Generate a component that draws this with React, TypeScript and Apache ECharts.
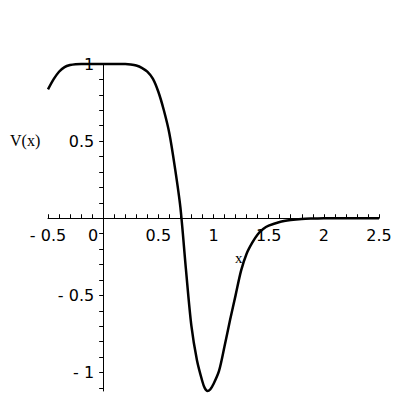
import React, { useEffect, useRef } from "react";
import * as echarts from "echarts";

const xValues = [
  -0.5, -0.45, -0.4, -0.35, -0.3, -0.25, -0.2, 0, 0.2, 0.25, 0.3, 0.35, 0.4,
  0.45, 0.5, 0.55, 0.6, 0.65, 0.7, 0.75, 0.8, 0.85, 0.9, 0.92, 0.945, 0.97,
  1.0, 1.05, 1.1, 1.15, 1.2, 1.25, 1.3, 1.35, 1.4, 1.45, 1.5, 1.6, 1.7, 1.8,
  1.9, 2.0, 2.5,
];
const vValues = [
  0.835, 0.9, 0.95, 0.98, 0.993, 0.999, 1.0, 1.0, 1.0, 0.997, 0.99, 0.975, 0.95,
  0.905, 0.82, 0.7, 0.55, 0.33, 0.07, -0.33, -0.7, -0.92, -1.06, -1.1, -1.12,
  -1.11, -1.075, -0.99, -0.83, -0.66, -0.5, -0.34, -0.23, -0.16, -0.105, -0.07,
  -0.048, -0.024, -0.012, -0.005, -0.002, 0, 0,
];
const xTickLabels = [-0.5, 0, 0.5, 1, 1.5, 2, 2.5];
const yTickLabels = [-1, -0.5, 0.5, 1];
const xMinorTicks = Array.from({ length: 31 }, (_, i) => Math.round((-0.5 + i * 0.1) * 10) / 10);
const yMinorTicks = Array.from({ length: 22 }, (_, i) => Math.round((-1.1 + i * 0.1) * 10) / 10);

const X_MIN = -0.5;
const X_MAX = 2.5;
const Y_MIN = -1.12;
const Y_MAX = 1;

const fmt = (v: number) => (v < 0 ? "- " + String(-v) : String(v));

export default function App() {
  const ref = useRef<HTMLDivElement>(null);
  useEffect(() => {
    if (!ref.current) return;
    const chart = echarts.init(ref.current, null, { renderer: "svg" });
    const W = 400;
    const H = 400;
    const grid = { left: 48, right: 21, top: 64, bottom: 9 };
    const plotW = W - grid.left - grid.right;
    const plotH = H - grid.top - grid.bottom;
    // move axes so they cross at the origin
    const xOffset = -plotH * (0 - Y_MIN) / (Y_MAX - Y_MIN);
    const yOffset = -plotW * (0 - X_MIN) / (X_MAX - X_MIN);
    const labelFont = { fontFamily: "DejaVu Sans", fontSize: 16, color: "#000" };
    chart.setOption({
      animation: false,
      backgroundColor: "#fff",
      grid: { ...grid, outerBoundsMode: "none", containLabel: false },
      xAxis: {
        type: "value",
        min: X_MIN,
        max: X_MAX,
        position: "bottom",
        offset: xOffset,
        axisLine: { onZero: false, lineStyle: { color: "#000", width: 1 } },
        axisTick: {
          inside: true,
          length: 4,
          customValues: xMinorTicks,
          lineStyle: { color: "#000" },
        },
        splitLine: { show: false },
        axisLabel: {
          ...labelFont,
          margin: 9,
          hideOverlap: false,
          customValues: xTickLabels,
          formatter: (v: number) => (v === 0 ? "{z|0}" : fmt(v)),
          rich: { z: { ...labelFont, padding: [0, 20, 4, 0] } },
        },
      },
      yAxis: {
        type: "value",
        min: Y_MIN,
        max: Y_MAX,
        position: "left",
        offset: yOffset,
        axisLine: { onZero: false, lineStyle: { color: "#000", width: 1 } },
        axisTick: {
          length: 4,
          customValues: yMinorTicks,
          lineStyle: { color: "#000" },
        },
        splitLine: { show: false },
        axisLabel: {
          ...labelFont,
          margin: 9,
          hideOverlap: false,
          customValues: yTickLabels,
          formatter: (v: number) => fmt(v),
        },
      },
      graphic: [
        {
          type: "text",
          left: 235,
          top: 250,
          style: { text: "x", font: '15px "Liberation Serif"', fill: "#000" },
        },
        {
          type: "text",
          left: 10,
          top: 132,
          style: { text: "V(x)", font: '16px "Liberation Serif"', fill: "#000" },
        },
      ],
      series: [
        {
          type: "line",
          data: xValues.map((x, i) => [x, vValues[i]]),
          showSymbol: false,
          smooth: 0.3,
          clip: false,
          lineStyle: { color: "#000", width: 2.5 },
        },
      ],
    });
    return () => chart.dispose();
  }, []);
  return (
    <div
      ref={ref}
      style={{ position: "absolute", left: 0, top: 0, width: 400, height: 400 }}
    />
  );
}
